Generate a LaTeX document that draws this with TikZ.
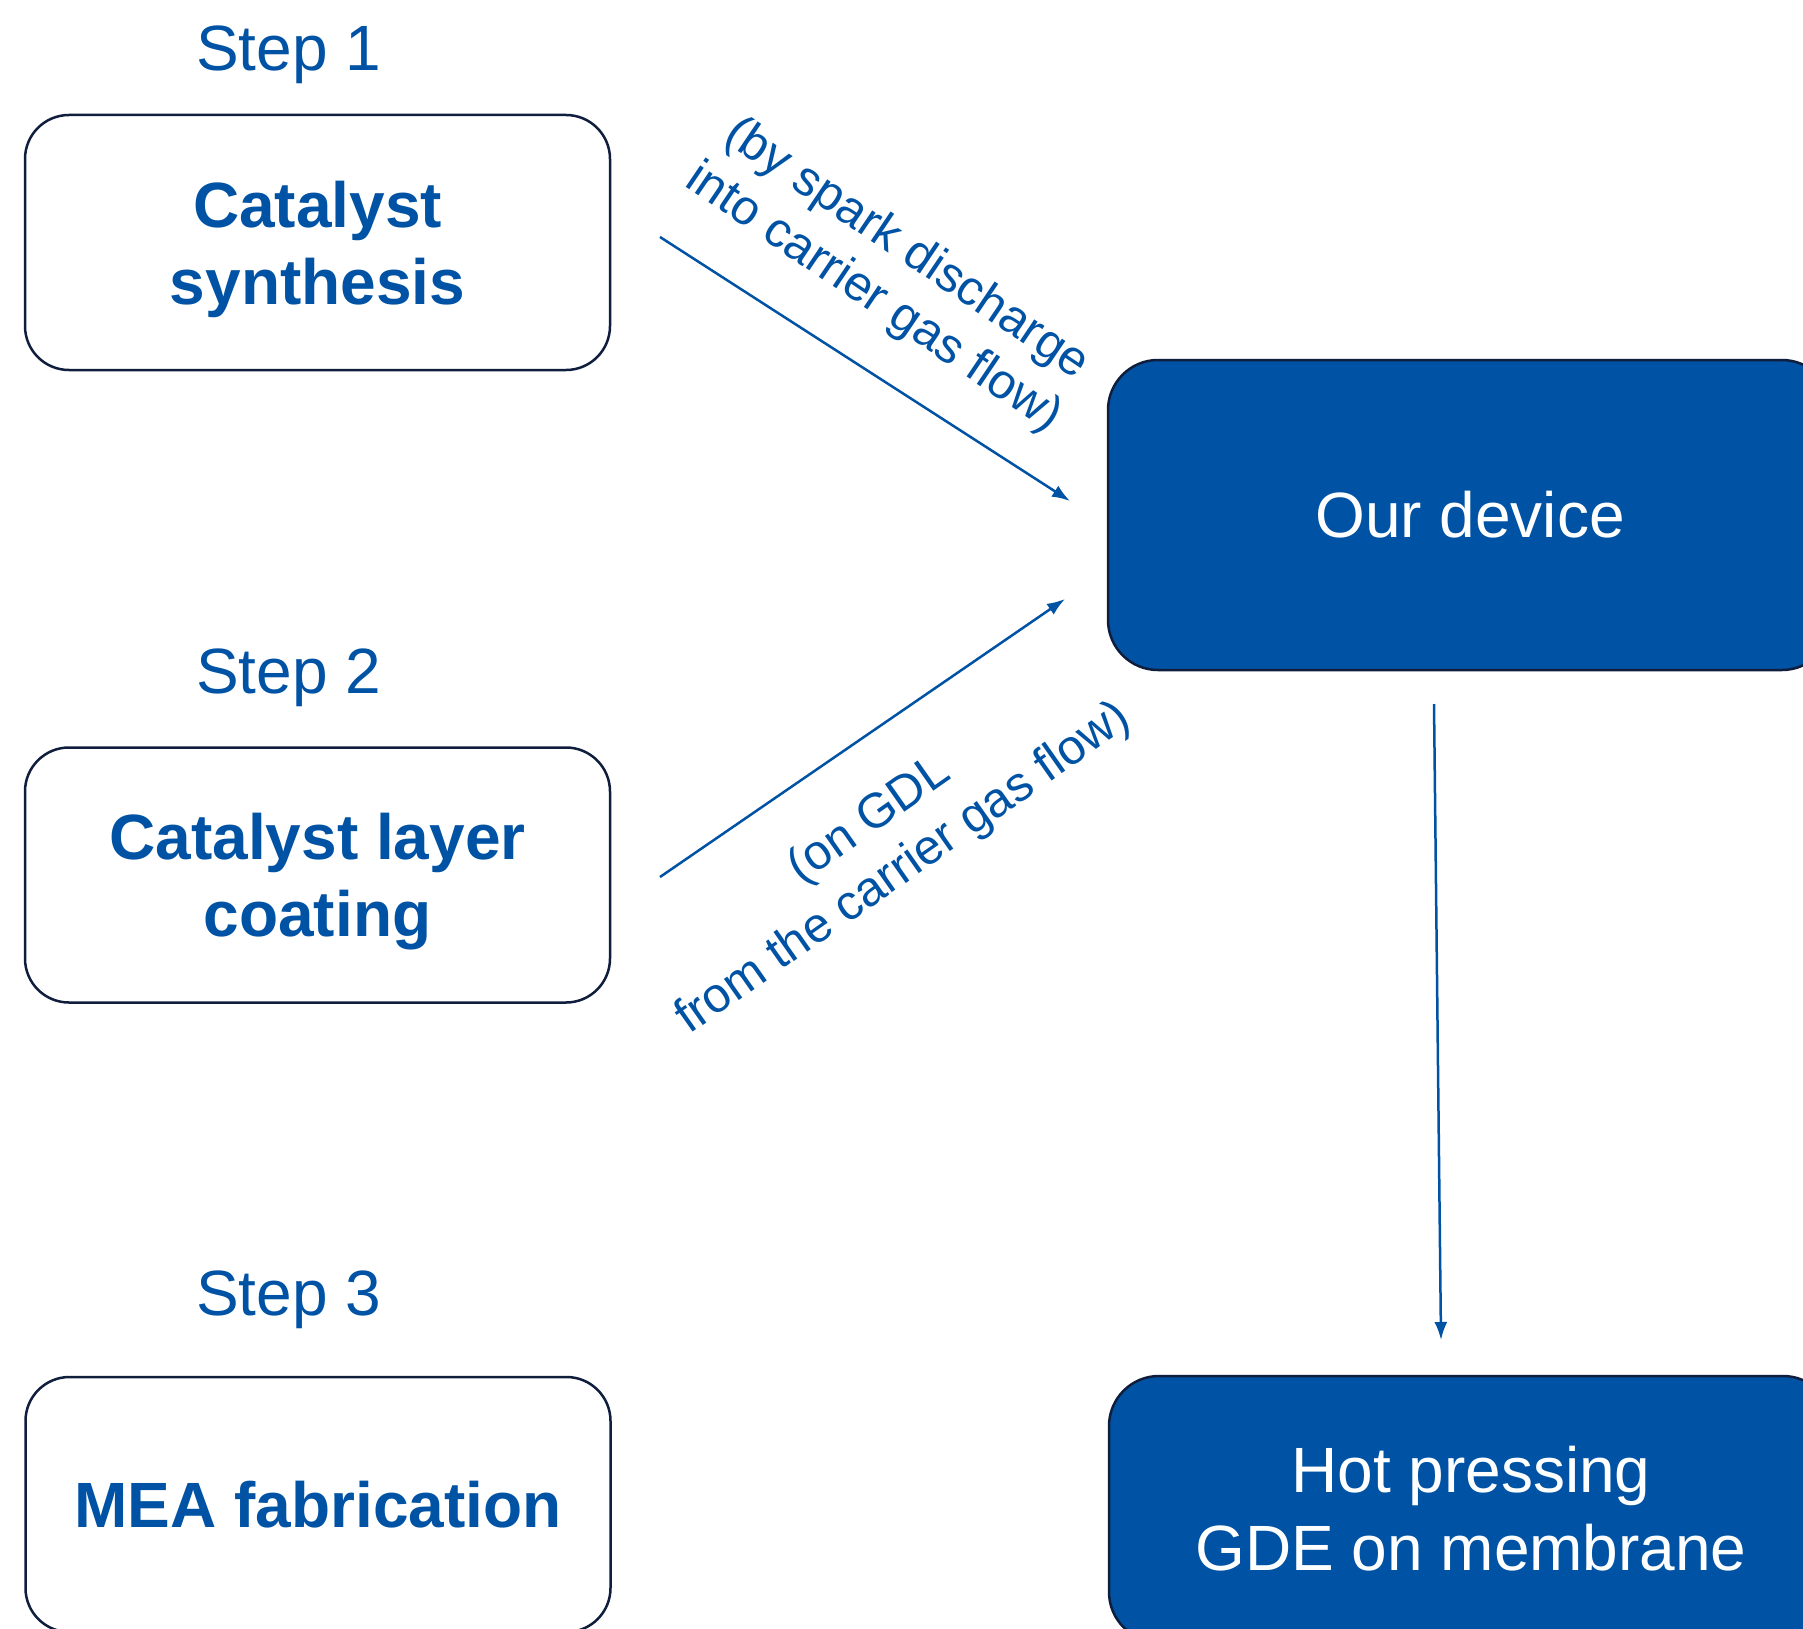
\documentclass[tikz,border=0pt]{standalone}
\usepackage{fontspec}
\setmainfont{Liberation Sans}
\usetikzlibrary{arrows.meta}
\definecolor{tblue}{RGB}{0,83,164}
\definecolor{navy}{RGB}{16,30,62}
\begin{document}
\begin{tikzpicture}[x=1pt,y=-1pt,
  stepbox/.style={draw=navy, line width=2.5pt, rounded corners=44pt, fill=white,
    minimum width=585pt, minimum height=255pt, text=tblue, inner sep=0pt,
    text depth=0pt,
    font=\fontsize{64}{77}\selectfont\bfseries, align=center},
  devbox/.style={draw=navy, line width=2.5pt, rounded corners=50pt, fill=tblue,
    minimum width=724pt, text=white, inner sep=0pt,
    font=\fontsize{64}{78}\selectfont, align=center},
  steplabel/.style={text=tblue, font=\fontsize{64}{77}\selectfont, inner sep=0pt},
  note/.style={text=tblue, font=\fontsize{49}{59}\selectfont, align=center, inner sep=0pt},
  flow/.style={draw=tblue, line width=2.5pt, -{Latex[length=18pt,width=13pt]}}
]
\useasboundingbox (0,0) rectangle (1803,1629);
\fill[white] (0,0) rectangle (1803,1629);

% step labels
\node[steplabel, anchor=base west] (s1) at (196,71) {Step 1};
\node[steplabel, anchor=base west] (s2) at (196,693) {Step 2};
\node[steplabel, anchor=base west] (s3) at (196,1315) {Step 3};

% left boxes
\node[stepbox] (b1) at (317.5,242.5) {Catalyst\\synthesis};
\node[stepbox] (b2) at (317.5,875) {Catalyst layer\\coating};
\node[stepbox] (b3) at (318,1504.5) {MEA fabrication};

% right boxes
\node[devbox, minimum height=310pt] (dev) at (1470,515) {Our device};
\node[devbox, minimum height=266pt] (hot) at (1471,1509) {Hot pressing\\GDE on membrane};

% arrow end points
\coordinate (a1s) at (660,237);
\coordinate (a1e) at (1070,501);
\coordinate (a2s) at (660,877);
\coordinate (a2e) at (1065,599);
\coordinate (a3s) at (1434,704);
\coordinate (a3e) at (1441,1340);

\draw[flow] (a1s) -- (a1e);
\draw[flow] (a2s) -- (a2e);
\draw[flow] (a3s) -- (a3e);

% notes
\node[note, rotate=-34] (n1) at (890,274) {(by spark discharge\\into carrier gas flow)};
\node[note, rotate=35] (n2) at (887,845) {(on GDL\\from the carrier gas flow)};
\end{tikzpicture}
\end{document}
